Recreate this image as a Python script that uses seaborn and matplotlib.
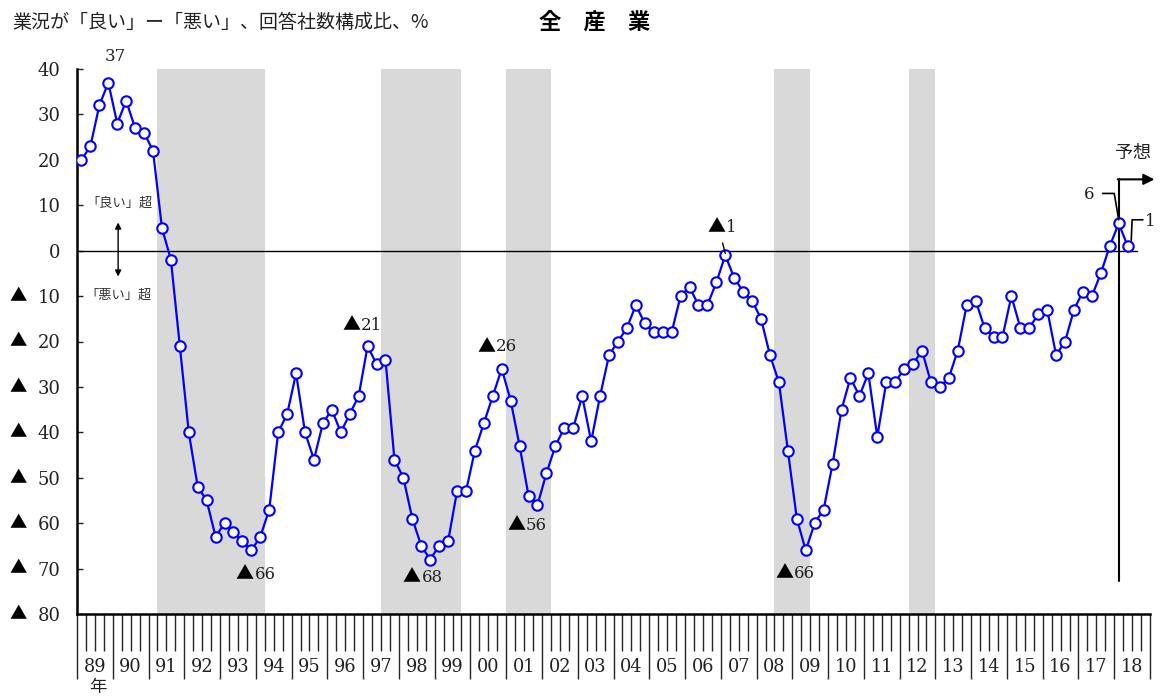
import numpy as np
import pandas as pd
import seaborn as sns
import matplotlib.pyplot as plt
from matplotlib.transforms import blended_transform_factory

# 業況判断DI（全産業）、四半期 1989Q1 - 2018Q2（最後は予想）
di = [20, 23, 32, 37, 28, 33, 27, 26, 22, 5, -2, -21,
      -40, -52, -55, -63, -60, -62, -64, -66, -63, -57, -40, -36,
      -27, -40, -46, -38, -35, -40, -36, -32, -21, -25, -24, -46,
      -50, -59, -65, -68, -65, -64, -53, -53, -44, -38, -32, -26,
      -33, -43, -54, -56, -49, -43, -39, -39, -32, -42, -32, -23,
      -20, -17, -12, -16, -18, -18, -18, -10, -8, -12, -12, -7,
      -1, -6, -9, -11, -15, -23, -29, -44, -59, -66, -60, -57,
      -47, -35, -28, -32, -27, -41, -29, -29, -26, -25, -22, -29,
      -30, -28, -22, -12, -11, -17, -19, -19, -10, -17, -17, -14,
      -13, -23, -20, -13, -9, -10, -5, 1, 6, 1]

year_labels = ['89', '90', '91', '92', '93', '94', '95', '96', '97', '98',
               '99', '00', '01', '02', '03', '04', '05', '06', '07', '08',
               '09', '10', '11', '12', '13', '14', '15', '16', '17', '18']

# 景気後退期（四半期番号）
shade_start = [8.5, 33.5, 47.5, 77.5, 92.5]
shade_end = [20.5, 42.5, 52.5, 81.5, 95.5]

# 山・谷の注記（四半期番号, テキスト中心のずれ px、上が正）
callout_idx = [3, 19, 32, 39, 47, 51, 72, 81, 116, 117]
callout_off = [(7, 26), (5, -24), (-5, 21), (-7, -18), (-4, 22),
               (-10, -20), (-3, 28), (-10, -23), (-30, 29), (23, 25)]

df = pd.DataFrame({'q': np.arange(len(di)), 'di': di})

sns.set_style('white')
plt.rcParams['font.family'] = ['DejaVu Serif', 'Noto Sans CJK JP']
JP = 'Noto Sans CJK JP'
TXT = '#222222'

fig = plt.figure(figsize=(11.61, 6.96), dpi=100)
ax = fig.add_axes([77 / 1161, 1 - 614 / 696, 1073 / 1161, 545 / 696])

for s, e in zip(shade_start, shade_end):
    ax.axvspan(s, e, color='#d9d9d9', lw=0, zorder=0)

ax.axhline(0, xmin=0, xmax=0.988, color='black', lw=1.0, zorder=1)

sns.lineplot(data=df, x='q', y='di', ax=ax, color='#0000ff', lw=1.6,
             marker='o', markersize=7.5, markerfacecolor='white',
             markeredgecolor='#0000ff', markeredgewidth=1.5, zorder=3)

ax.set_xlim(-0.5, 119.5)
ax.set_ylim(-80, 40)
ax.set_xlabel('')
ax.set_ylabel('')

# y軸
yt = np.arange(-80, 41, 10)
ax.set_yticks(yt)
ax.set_yticklabels([str(abs(v)) for v in yt], fontsize=13, color=TXT)
ax.tick_params(axis='y', left=True, direction='in', length=4, width=1,
               pad=12)
tri = blended_transform_factory(fig.transFigure, ax.transData)
for v in yt[yt < 0]:
    ax.text(18 / 1161, v, '▲', transform=tri, ha='center', va='center',
            fontsize=12.5, color='black', family=JP)

# x軸：四半期目盛りと年区切り
ax.set_xticks(np.arange(-0.5, 120, 4))
ax.set_xticks(np.arange(-0.5, 120, 1), minor=True)
ax.set_xticklabels([])
ax.tick_params(axis='x', which='both', bottom=True, direction='out')
ax.tick_params(axis='x', which='major', length=47, width=1)
ax.tick_params(axis='x', which='minor', length=26.5, width=1)
xt = blended_transform_factory(ax.transData, fig.transFigure)
for k, lab in enumerate(year_labels):
    ax.text(4 * k + 1.5, 1 - 667 / 696, lab, transform=xt, ha='center',
            va='center', fontsize=12.8, color=TXT)
ax.text(1.8, 1 - 687 / 696, '年', transform=xt, ha='center', va='center',
        fontsize=12.5, color=TXT, family=JP)

for side in ['top', 'right']:
    ax.spines[side].set_visible(False)
for side in ['left', 'bottom']:
    ax.spines[side].set_linewidth(1.8)
    ax.spines[side].set_color('black')

# 山・谷の値（▲は全角記号として別に描く）
for i, (dx, dy) in zip(callout_idx, callout_off):
    v = di[i]
    num = str(abs(v))
    if v >= 0:
        ax.annotate(num, (i, v), xytext=(dx, dy), textcoords='offset pixels',
                    ha='center', va='center', fontsize=12, color=TXT,
                    annotation_clip=False)
        continue
    w = 16 + 10.5 * len(num)
    split = dx - w / 2 + 16
    ax.annotate('▲', (i, v), xytext=(split, dy), textcoords='offset pixels',
                ha='right', va='center', fontsize=13, color='black',
                family=JP, annotation_clip=False)
    ax.annotate(num, (i, v), xytext=(split + 1, dy),
                textcoords='offset pixels', ha='left', va='center',
                fontsize=12, color=TXT, annotation_clip=False)

# 引き出し線
ax.plot([71.7, 72.0], [1.7, -0.6], color='black', lw=1.0, zorder=4)
ax.plot([114.2, 115.5, 116.0], [12.6, 12.6, 6.8], color='black', lw=1.2,
        clip_on=False, zorder=4)
ax.plot([118.7, 117.5, 117.4], [6.8, 6.8, 2.2], color='black', lw=1.2,
        clip_on=False, zorder=4)

# 予想の区切り
ax.plot([116, 116], [15.7, -72.8], color='black', lw=1.5, clip_on=False,
        zorder=2)
ax.annotate('', xy=(120.0, 15.7), xytext=(115.9, 15.7),
            arrowprops=dict(arrowstyle='-|>', color='black', lw=1.5,
                            mutation_scale=16, shrinkA=0, shrinkB=0),
            annotation_clip=False)
ax.text(117.6, 21.5, '予想', ha='center', va='center', fontsize=13,
        color=TXT, family=JP)

# 「良い」超 / 「悪い」超
ax.annotate('', xy=(4.1, 6.2), xytext=(4.1, -5.7),
            arrowprops=dict(arrowstyle='<|-|>', color='black', lw=1.0,
                            mutation_scale=9, shrinkA=0, shrinkB=0))
ax.text(4.3, 10.4, '「良い」超', ha='center', va='center', fontsize=9.5,
        color='#333333', family=JP)
ax.text(4.1, -9.9, '「悪い」超', ha='center', va='center', fontsize=9.5,
        color='#333333', family=JP)

fig.text(12 / 1161, 1 - 22 / 696, '業況が「良い」ー「悪い」、回答社数構成比、%',
         ha='left', va='center', fontsize=13.7, color=TXT, family=JP)
fig.text(595 / 1161, 1 - 22 / 696, '全　産　業', ha='center', va='center',
         fontsize=16, fontweight='bold', color='black', family=JP)

fig.savefig('out.png', dpi=100)
